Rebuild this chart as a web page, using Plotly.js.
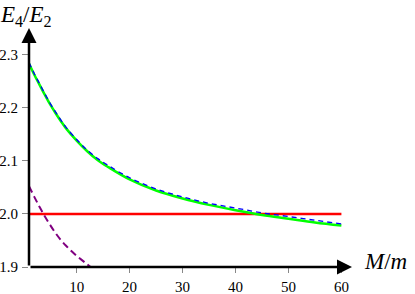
<!DOCTYPE html>
<html><head><meta charset="utf-8">
<script src="https://cdn.plot.ly/plotly-3.0.1.min.js"></script>
<style>html,body{margin:0;padding:0;background:#fff}#chart{width:415px;height:294px}</style>
</head><body><div id="chart"></div>
<script>
// Data
const xGreen = [1,2,3,4,5,6,7,8,10,12,14,16,20,25,30,35,40,45,50,55,60];
const yGreen = [2.283,2.262,2.243,2.224,2.206,2.190,2.175,2.161,2.138,2.118,2.101,2.088,2.065,2.044,2.029,2.017,2.007,1.998,1.991,1.984,1.978];
const xBlue = [1,2,3,4,5,6,7,8,10,12,14,16,20,25,30,35,40,45,50,55,60];
const yBlue = [2.285,2.264,2.245,2.226,2.208,2.192,2.177,2.163,2.140,2.120,2.104,2.091,2.068,2.047,2.032,2.020,2.011,2.002,1.995,1.988,1.981];
const xRed = [1,60];
const yRed = [2.0,2.0];
const xPurple = [1,2,3,4,5,6,7,8,9,10,11,12,13];
const yPurple = [2.052,2.032,2.013,1.995,1.979,1.964,1.951,1.940,1.930,1.921,1.913,1.905,1.897];
const xTicks = [10,20,30,40,50,60];
const yTicks = [1.9,2.0,2.1,2.2,2.3];
const yTickText = ['1.9','2.0','2.1','2.2','2.3'];
const xRange = [1,62];
const yRange = [1.9,2.35];

const serif = "Liberation Serif";
const traces = [
  {x:xRed,y:yRed,mode:'lines',line:{color:'#ff0000',width:2.5},hoverinfo:'skip'},
  {x:xPurple,y:yPurple,mode:'lines',line:{color:'#800080',width:2,dash:'7px,4px',shape:'spline'},hoverinfo:'skip'},
  {x:xGreen,y:yGreen,mode:'lines',line:{color:'#00ff00',width:2.5,shape:'spline'},hoverinfo:'skip'},
  {x:xBlue,y:yBlue,mode:'lines',line:{color:'#0000ff',width:1.3,dash:'5px,4px',shape:'spline'},hoverinfo:'skip'}
];
const tickFont = {family:serif,size:15,color:'#000'};
const layout = {
  width:415,height:294,
  margin:{l:29,r:63,t:28,b:27},
  paper_bgcolor:'#fff',plot_bgcolor:'#fff',
  showlegend:false,
  font:{family:serif,size:15,color:'#000'},
  xaxis:{range:xRange,tickmode:'array',tickvals:xTicks,ticktext:xTicks.map(String),ticks:'outside',ticklen:5,tickwidth:1,tickcolor:'#888',
    showgrid:false,zeroline:false,showline:false,tickfont:tickFont,ticklabelstandoff:1},
  yaxis:{range:yRange,tickmode:'array',tickvals:yTicks,ticktext:yTickText,ticks:'outside',ticklen:6,tickwidth:1,tickcolor:'#888',
    showgrid:false,zeroline:false,showline:false,tickfont:tickFont,ticklabelstandoff:1},
  xaxis2:{range:xRange,overlaying:'x',anchor:'y',side:'bottom',tickmode:'array',tickvals:xTicks,ticks:'inside',ticklen:5,tickwidth:1,tickcolor:'#888',
    showticklabels:false,showgrid:false,zeroline:false,showline:false},
  yaxis2:{range:yRange,overlaying:'y',anchor:'x',side:'left',tickmode:'array',tickvals:yTicks,ticks:'inside',ticklen:6,tickwidth:1,tickcolor:'#888',
    showticklabels:false,showgrid:false,zeroline:false,showline:false},
  annotations:[
    {x:xRange[1],y:yRange[0],ax:xRange[0],ay:yRange[0],xref:'x',yref:'y',axref:'x',ayref:'y',text:'',showarrow:true,arrowhead:2,arrowsize:1.2,arrowwidth:2.5,arrowcolor:'#000'},
    {x:xRange[0],y:yRange[1],ax:xRange[0],ay:yRange[0],xref:'x',yref:'y',axref:'x',ayref:'y',text:'',showarrow:true,arrowhead:2,arrowsize:1.2,arrowwidth:2.5,arrowcolor:'#000'},
    {xref:'paper',yref:'paper',x:1,y:0,xanchor:'left',yanchor:'middle',xshift:10,yshift:6,text:'<i>M</i>/<i>m</i>',showarrow:false,font:{family:serif,size:23,color:'#000'}},
    {xref:'paper',yref:'paper',x:0,y:1,xanchor:'left',yanchor:'bottom',xshift:-31,yshift:-4,text:'<i>E</i><sub>4</sub>/<i>E</i><sub>2</sub>',showarrow:false,font:{family:serif,size:23,color:'#000'}}
  ]
};
Plotly.newPlot('chart',traces,layout,{staticPlot:true,displayModeBar:false});
</script></body></html>
